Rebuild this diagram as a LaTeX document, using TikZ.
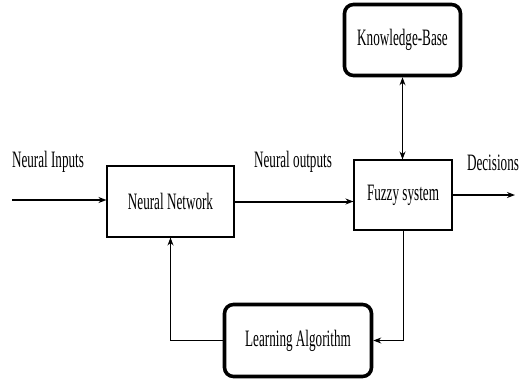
\documentclass[tikz,border=0pt]{standalone}
\usepackage{fontspec}
\setmainfont{Liberation Serif}[FakeStretch=0.56]
\usetikzlibrary{arrows.meta,positioning}

\begin{document}
\begin{tikzpicture}[x=1pt,y=-1pt,>={Stealth[length=8pt,width=6pt]}]
    \tikzstyle{block}=[draw, line width=1.1pt, minimum width=127pt, minimum height=71pt, font=\fontsize{23.5}{26}\selectfont]
    \tikzstyle{rblock}=[block, rounded corners=9pt, line width=3.6pt]
    \tikzstyle{lbl}=[font=\fontsize{23.5}{26}\selectfont]
    \tikzstyle{main}=[->, line width=2pt]
    \tikzstyle{thin}=[line width=0.9pt]

    \useasboundingbox (0,0) rectangle (519,381);

    \node[block] (nn) at (170.5,201.5) {Neural Network};
    \node[block, minimum width=98pt, minimum height=70pt] (fuzzy) at (403,195) {Fuzzy system};
    \node[rblock, minimum width=116pt, minimum height=71pt] (kb) at (402.5,40) {Knowledge-Base};
    \node[rblock, minimum width=147pt, minimum height=72pt] (learn) at (298,340.5) {Learning Algorithm};

    \coordinate (in) at (12,200);
    \coordinate (out) at (515,195);

    \node[lbl] (inlbl) at (48,162) {Neural Inputs};
    \node[lbl] (outlbl) at (293,162) {Neural outputs};
    \node[lbl] (declbl) at (493,163) {Decisions};

    \draw[main] (in) -- (in -| nn.west);
    \draw[main] (nn) -- (nn -| fuzzy.west);
    \draw[main] (fuzzy) -- (out);
    \draw[thin, <->] (kb.south) -- (kb.south |- fuzzy.north);
    \draw[thin, ->] (fuzzy.south) |- (learn.east);
    \draw[thin, ->] (learn.west) -| (nn.south);
\end{tikzpicture}
\end{document}
